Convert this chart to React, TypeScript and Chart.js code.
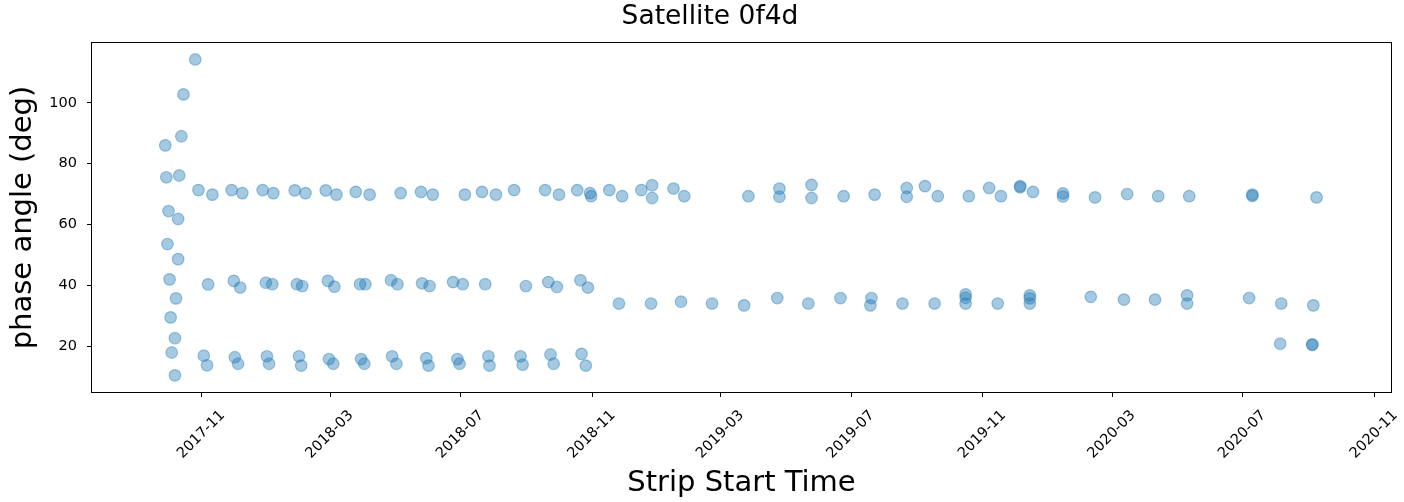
import React, { useEffect, useRef } from 'react';
import { Chart, registerables } from 'chart.js';

Chart.register(...registerables);

// ---- data ----
const arcDates = ['2017-10-26', '2017-10-15', '2017-10-13', '2017-09-28', '2017-09-29', '2017-10-11', '2017-10-01', '2017-10-10', '2017-09-30', '2017-10-10', '2017-10-02', '2017-10-08', '2017-10-03', '2017-10-07', '2017-10-04', '2017-10-07'];
const arcAngles = [114.25, 102.75, 89.0, 86.0, 75.5, 76.1, 64.4, 61.8, 53.55, 48.6, 41.95, 35.7, 29.45, 22.6, 17.9, 10.4];

const upperDates = ['2017-10-29', '2017-11-11', '2017-11-29', '2017-12-09', '2017-12-28', '2018-01-07', '2018-01-27', '2018-02-06', '2018-02-25', '2018-03-07', '2018-03-25', '2018-04-07', '2018-05-06', '2018-05-25', '2018-06-05', '2018-07-05', '2018-07-21', '2018-08-03', '2018-08-20', '2018-09-18', '2018-10-01', '2018-10-18', '2018-10-30', '2018-10-31', '2018-11-17', '2018-11-29', '2018-12-17', '2018-12-27', '2018-12-27', '2019-01-16', '2019-01-26', '2019-03-27', '2019-04-25', '2019-04-25', '2019-05-25', '2019-05-25', '2019-06-24', '2019-07-23', '2019-08-22', '2019-08-22', '2019-09-08', '2019-09-20', '2019-10-19', '2019-11-07', '2019-11-18', '2019-12-06', '2019-12-06', '2019-12-18', '2020-01-15', '2020-01-15', '2020-02-14', '2020-03-15', '2020-04-13', '2020-05-12', '2020-07-10', '2020-07-10', '2020-09-08'];
const upperAngles = [71.3, 69.8, 71.3, 70.3, 71.3, 70.3, 71.2, 70.3, 71.2, 69.8, 70.7, 69.8, 70.3, 70.7, 69.8, 69.8, 70.7, 69.8, 71.3, 71.3, 69.8, 71.3, 70.3, 69.3, 71.3, 69.3, 71.3, 72.9, 68.7, 71.8, 69.3, 69.3, 71.8, 69.1, 73.0, 68.7, 69.3, 69.8, 72.0, 69.1, 72.6, 69.3, 69.3, 72.0, 69.3, 72.6, 72.2, 70.7, 70.2, 69.2, 68.9, 70.0, 69.3, 69.3, 69.8, 69.4, 68.9];

const middleDates = ['2017-11-07', '2017-12-01', '2017-12-07', '2017-12-31', '2018-01-06', '2018-01-29', '2018-02-03', '2018-02-27', '2018-03-05', '2018-03-29', '2018-04-03', '2018-04-27', '2018-05-03', '2018-05-26', '2018-06-02', '2018-06-24', '2018-07-03', '2018-07-24', '2018-08-31', '2018-09-21', '2018-09-29', '2018-10-21', '2018-10-28', '2018-11-26', '2018-12-26', '2019-01-23', '2019-02-21', '2019-03-23', '2019-04-23', '2019-05-22', '2019-06-21', '2019-07-20', '2019-07-19', '2019-08-18', '2019-09-17', '2019-10-16', '2019-10-16', '2019-10-16', '2019-11-15', '2019-12-15', '2019-12-15', '2019-12-15', '2020-02-10', '2020-03-12', '2020-04-10', '2020-05-10', '2020-05-10', '2020-07-07', '2020-08-06', '2020-09-05'];
const middleAngles = [40.3, 41.45, 39.25, 40.85, 40.35, 40.35, 39.75, 41.45, 39.55, 40.35, 40.35, 41.65, 40.35, 40.65, 39.75, 41.05, 40.35, 40.35, 39.75, 41.05, 39.45, 41.65, 39.25, 34.0, 34.0, 34.6, 34.0, 33.4, 35.8, 34.0, 35.8, 35.8, 33.4, 34.0, 34.0, 37.0, 35.9, 34.0, 34.0, 36.7, 35.7, 34.0, 36.2, 35.3, 35.3, 36.7, 34.0, 35.8, 34.0, 33.4];

const lowerDates = ['2017-11-03', '2017-11-06', '2017-12-02', '2017-12-05', '2018-01-01', '2018-01-03', '2018-01-31', '2018-02-02', '2018-02-28', '2018-03-04', '2018-03-30', '2018-04-02', '2018-04-28', '2018-05-02', '2018-05-30', '2018-06-01', '2018-06-28', '2018-06-30', '2018-07-27', '2018-07-28', '2018-08-26', '2018-08-28', '2018-09-23', '2018-09-26', '2018-10-22', '2018-10-26', '2020-08-05', '2020-09-04', '2020-09-04'];
const lowerAngles = [16.85, 13.7, 16.35, 14.2, 16.65, 14.2, 16.65, 13.6, 15.75, 14.2, 15.75, 14.2, 16.65, 14.2, 16.05, 13.6, 15.75, 14.2, 16.65, 13.6, 16.65, 13.9, 17.25, 14.2, 17.45, 13.6, 20.8, 20.6, 20.4];

const xTickMonths = ['2017-11', '2018-03', '2018-07', '2018-11', '2019-03', '2019-07', '2019-11', '2020-03', '2020-07', '2020-11'];
const yTickValues = [20, 40, 60, 80, 100];
const xRange = ['2017-07-21T12:00:00Z', '2020-11-16T14:00:00Z'];
const yRange = [4.92, 119.65];

const TITLE = 'Satellite 0f4d';
const X_LABEL = 'Strip Start Time';
const Y_LABEL = 'phase angle (deg)';

const FONT = "'DejaVu Sans', sans-serif";
const POINT_COLOR = 'rgba(31, 119, 180, 0.4)';

function toPoints(dates: string[], angles: number[]) {
  return dates.map((d, i) => ({ x: Date.parse(d + 'T00:00:00Z'), y: angles[i] }));
}

const framePlugin = {
  id: 'frame',
  afterDraw(chart: any) {
    const { ctx, chartArea: a } = chart;
    ctx.save();
    ctx.strokeStyle = '#000';
    ctx.lineWidth = 1;
    ctx.strokeRect(a.left - 0.5, a.top - 0.5, a.right - a.left + 1, a.bottom - a.top + 1);
    ctx.restore();
  },
};

export default function App() {
  const ref = useRef<HTMLCanvasElement | null>(null);

  useEffect(() => {
    if (!ref.current) return;
    const points = [
      ...toPoints(arcDates, arcAngles),
      ...toPoints(upperDates, upperAngles),
      ...toPoints(middleDates, middleAngles),
      ...toPoints(lowerDates, lowerAngles),
    ];
    const chart = new Chart(ref.current, {
      type: 'scatter',
      data: {
        datasets: [
          {
            data: points,
            backgroundColor: POINT_COLOR,
            borderColor: POINT_COLOR,
            borderWidth: 1.2,
            pointRadius: 5.8,
            pointHoverRadius: 5.8,
          },
        ],
      },
      plugins: [framePlugin],
      options: {
        responsive: false,
        maintainAspectRatio: false,
        animation: false,
        events: [],
        layout: { padding: { left: 29, right: 13, top: 0, bottom: 0 } },
        plugins: {
          legend: { display: false },
          tooltip: { enabled: false },
          title: {
            display: true,
            text: TITLE,
            color: '#000',
            font: { family: FONT, size: 26.5, weight: 'normal' },
            padding: { top: 0.8, bottom: 10.4 },
          },
        },
        scales: {
          x: {
            type: 'linear',
            min: Date.parse(xRange[0]),
            max: Date.parse(xRange[1]),
            afterBuildTicks: (scale: any) => {
              scale.ticks = xTickMonths.map((m) => ({ value: Date.parse(m + '-01T00:00:00Z') }));
            },
            afterFit: (scale: any) => {
              scale.height = 110;
            },
            border: { display: false },
            grid: { drawOnChartArea: false, drawTicks: true, tickLength: 5, color: '#000', lineWidth: 1 },
            ticks: {
              autoSkip: false,
              minRotation: 45,
              maxRotation: 45,
              padding: 10,
              labelOffset: 21,
              color: '#000',
              font: { family: FONT, size: 14.5 },
              callback: (v: any) => {
                const d = new Date(Number(v));
                return d.getUTCFullYear() + '-' + String(d.getUTCMonth() + 1).padStart(2, '0');
              },
            },
            title: {
              display: true,
              text: X_LABEL,
              color: '#000',
              font: { family: FONT, size: 29 },
              padding: { top: 0, bottom: 0.8 },
            },
          },
          y: {
            type: 'linear',
            min: yRange[0],
            max: yRange[1],
            afterBuildTicks: (scale: any) => {
              scale.ticks = yTickValues.map((v) => ({ value: v }));
            },
            afterFit: (scale: any) => {
              scale.width = 63;
            },
            border: { display: false },
            grid: { drawOnChartArea: false, drawTicks: true, tickLength: 5, color: '#000', lineWidth: 1 },
            ticks: {
              padding: 10,
              color: '#000',
              font: { family: FONT, size: 14.5 },
            },
            title: {
              display: true,
              text: Y_LABEL,
              color: '#000',
              font: { family: FONT, size: 29 },
              padding: { top: -23.1, bottom: 0 },
            },
          },
        },
      } as any,
    });
    return () => chart.destroy();
  }, []);

  return (
    <div style={{ position: 'absolute', left: 0, top: 0, width: 1404, height: 502, background: '#fff' }}>
      <canvas ref={ref} width={1404} height={502} style={{ display: 'block', width: 1404, height: 502 }} />
    </div>
  );
}
